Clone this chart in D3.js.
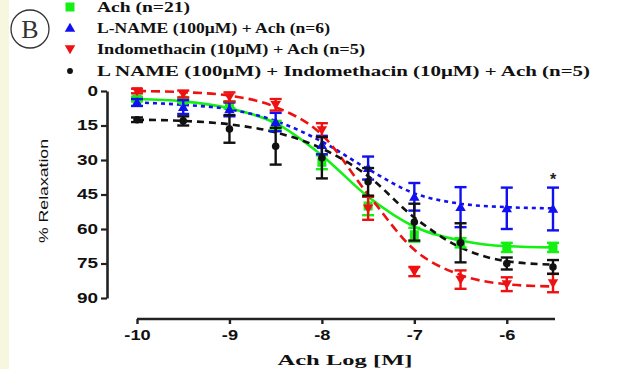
<!DOCTYPE html>
<html><head><meta charset="utf-8">
<script src="https://cdn.jsdelivr.net/npm/d3@7"></script>
<style>
html,body{margin:0;padding:0;background:#fff;}
svg{display:block;}
</style></head>
<body>
<svg id="c" width="622" height="369"></svg>
<script>
// ---- data ----
const logDose = [-10, -9.5, -9, -8.5, -8, -7.5, -7, -6.5, -6, -5.5];
const achMean   = [3.5, 4, 6, 15, 31, 50, 62.5, 66, 68, 68];
const achErr    = [1, 1, 1.5, 2, 3, 4, 3, 2, 2, 2];
const lnameMean = [5, 7, 8, 13.5, 23.5, 33.5, 46, 50.5, 51, 51.3];
const lnameErr  = [1.5, 3, 3, 4, 4, 5, 6, 8.7, 9, 9.3];
const indoMean  = [0, 1.3, 2.6, 6, 17, 51, 78.5, 82, 84, 83.5];
const indoErr   = [1, 1.5, 2, 2.5, 3, 5, 2, 4, 3, 4];
const bothMean  = [12.5, 13, 16.5, 24, 29, 39.5, 57, 66, 75, 76.5];
const bothErr   = [1, 2, 6, 8, 9, 6, 8, 8.5, 2.6, 3];
// fitted curves at the same doses
const achFit   = [3.5, 4.5, 7.5, 14, 28, 46, 59, 65, 67.5, 68];
const lnameFit = [5, 6, 8, 13, 22, 34, 44.5, 49, 50.5, 51];
const indoFit  = [0, 0.5, 2, 7, 19, 45, 69, 80, 84, 85];
const bothFit  = [12.5, 13, 14.5, 18, 25, 37, 55, 68, 74, 75.5];
const seriesNames = ["Ach (n=21)", "L-NAME (100μM) + Ach (n=6)", "Indomethacin (10μM) + Ach (n=5)", "L NAME (100μM) + Indomethacin (10μM) + Ach (n=5)"];
const xTicks = [-10, -9, -8, -7, -6];
const yTicks = [0, 15, 30, 45, 60, 75, 90];
const xTitle = "Ach Log [M]";
const yTitle = "% Relaxation";
const panelLabel = "B";
const sigMark = "*";

const series = [
  {name: seriesNames[0], mean: achMean, err: achErr, fit: achFit, color: "#14f014", dash: null, sym: "square"},
  {name: seriesNames[1], mean: lnameMean, err: lnameErr, fit: lnameFit, color: "#1010f0", dash: "4,4", sym: "up"},
  {name: seriesNames[2], mean: indoMean, err: indoErr, fit: indoFit, color: "#ee1111", dash: "9,5", sym: "down"},
  {name: seriesNames[3], mean: bothMean, err: bothErr, fit: bothFit, color: "#111111", dash: "7,5", sym: "dot"}
];

const svg = d3.select("#c");
// cream strip on the left
svg.append("rect").attr("x", 0).attr("y", 0).attr("width", 9).attr("height", 369).attr("fill", "#f7f6df");

const x = d3.scaleLinear().domain([-10, -5.5]).range([137, 553]);
const y = d3.scaleLinear().domain([0, 90]).range([91, 298]);

function stretch(sel, f) {
  sel.each(function() {
    const w = this.getComputedTextLength();
    d3.select(this).attr("textLength", w * f).attr("lengthAdjust", "spacingAndGlyphs");
  });
}

// axes
const xAxis = svg.append("g").attr("transform", "translate(0,319)")
  .call(d3.axisBottom(x).tickValues(xTicks).tickFormat(d3.format("d")).tickSize(5).tickSizeOuter(0));
xAxis.select(".domain").attr("stroke", "#222").attr("stroke-width", 2.6).attr("d", "M" + (x(-10)) + ",0H" + (x(-5.5) + 2));
xAxis.selectAll(".tick line").attr("stroke", "#222").attr("stroke-width", 2.4);
xAxis.selectAll(".tick text").attr("font-family", "Liberation Sans, Arial, sans-serif").attr("font-weight", "bold")
  .attr("font-size", 14).attr("fill", "#111").attr("dy", "0.95em").text(d => d3.format("d")(d).replace("−", "-"));
stretch(xAxis.selectAll(".tick text"), 1.3);

const yAxis = svg.append("g").attr("transform", "translate(107,0)")
  .call(d3.axisLeft(y).tickValues(yTicks).tickSize(6).tickSizeOuter(0).tickPadding(3));
yAxis.select(".domain").attr("stroke", "#222").attr("stroke-width", 2.6);
yAxis.selectAll(".tick line").attr("stroke", "#222").attr("stroke-width", 2.2);
yAxis.selectAll(".tick text").attr("font-family", "Liberation Sans, Arial, sans-serif").attr("font-weight", "bold")
  .attr("font-size", 14).attr("fill", "#111");
stretch(yAxis.selectAll(".tick text"), 1.35);

// axis titles
const xt = svg.append("text").attr("x", 345).attr("y", 365).attr("text-anchor", "middle")
  .attr("font-family", "Liberation Serif, Times New Roman, serif").attr("font-weight", "bold").attr("font-size", 15)
  .attr("fill", "#111").text(xTitle);
xt.attr("textLength", 135).attr("lengthAdjust", "spacingAndGlyphs");
const yt = svg.append("text").attr("transform", "translate(48,191) rotate(-90)").attr("text-anchor", "middle")
  .attr("font-family", "Liberation Sans, Arial, sans-serif").attr("font-size", 13).attr("fill", "#111").text(yTitle);
yt.attr("textLength", 104).attr("lengthAdjust", "spacingAndGlyphs");

// fitted curves
const line = d3.line().x((d, i) => x(logDose[i])).y(d => y(d)).curve(d3.curveMonotoneX);
series.forEach(s => {
  svg.append("path").attr("d", line(s.fit)).attr("fill", "none").attr("stroke", s.color)
    .attr("stroke-width", 2.6).attr("stroke-dasharray", s.dash);
});

// markers
function drawSym(g, sym, cx, cy, color, size) {
  if (sym === "square") {
    g.append("rect").attr("x", cx - size/2).attr("y", cy - size/2).attr("width", size).attr("height", size).attr("fill", color);
  } else if (sym === "up") {
    const h = size * 0.95;
    g.append("path").attr("d", `M${cx},${cy - h*0.6}L${cx + size*0.58},${cy + h*0.45}L${cx - size*0.58},${cy + h*0.45}Z`).attr("fill", color);
  } else if (sym === "down") {
    const h = size * 0.95;
    g.append("path").attr("d", `M${cx},${cy + h*0.6}L${cx + size*0.58},${cy - h*0.45}L${cx - size*0.58},${cy - h*0.45}Z`).attr("fill", color);
  } else {
    g.append("circle").attr("cx", cx).attr("cy", cy).attr("r", size*0.42).attr("fill", color);
  }
}

series.forEach(s => {
  const g = svg.append("g");
  s.mean.forEach((m, i) => {
    const cx = x(logDose[i]);
    const e = s.err[i];
    const y0 = y(m - e), y1 = y(m + e);
    g.append("line").attr("x1", cx).attr("x2", cx).attr("y1", y0).attr("y2", y1).attr("stroke", s.color).attr("stroke-width", 2.4);
    [y0, y1].forEach(yy => g.append("line").attr("x1", cx - 6).attr("x2", cx + 6).attr("y1", yy).attr("y2", yy)
      .attr("stroke", s.color).attr("stroke-width", 2.4));
    drawSym(g, s.sym, cx, y(m), s.color, 9);
  });
});

// significance mark
svg.append("text").attr("x", x(-5.5)).attr("y", y(lnameMean[9] - lnameErr[9]) - 3).attr("text-anchor", "middle")
  .attr("font-family", "Liberation Sans, Arial, sans-serif").attr("font-weight", "bold").attr("font-size", 16)
  .attr("fill", "#222").text(sigMark);

// legend
const legendY = [7, 28, 49, 71];
const legendW = [93, 233, 268, 493];
series.forEach((s, i) => {
  drawSym(svg, s.sym, 70, legendY[i], s.color, s.sym === "dot" ? 7 : 9);
  svg.append("text").attr("x", 97).attr("y", legendY[i] + 5)
    .attr("font-family", "Liberation Serif, Times New Roman, serif").attr("font-weight", "bold").attr("font-size", 14)
    .attr("fill", "#111").attr("textLength", legendW[i]).attr("lengthAdjust", "spacingAndGlyphs").text(s.name);
});

// panel label
svg.append("circle").attr("cx", 30).attr("cy", 29).attr("r", 19).attr("fill", "none").attr("stroke", "#333").attr("stroke-width", 1.3);
svg.append("text").attr("x", 30).attr("y", 38).attr("text-anchor", "middle")
  .attr("font-family", "Liberation Serif, Times New Roman, serif").attr("font-size", 26).attr("fill", "#333").text(panelLabel);
</script>
</body></html>
